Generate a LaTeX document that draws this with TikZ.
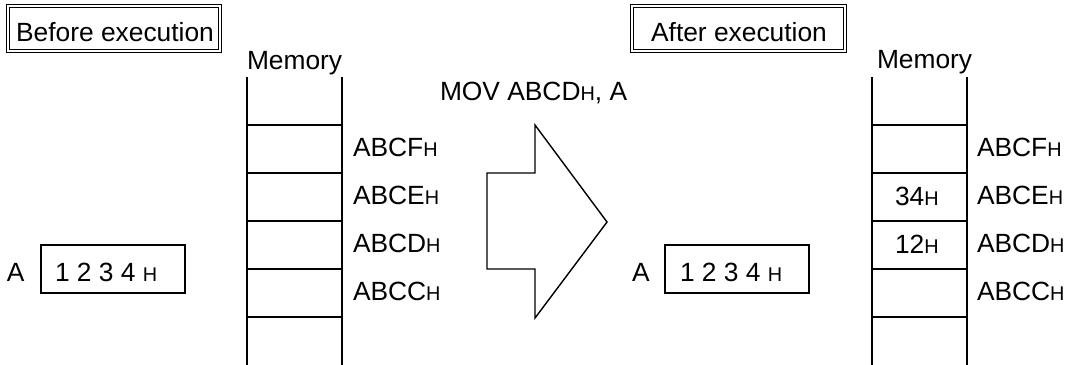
\documentclass[tikz,border=0pt]{standalone}
\usepackage{fontspec}
\setmainfont{Liberation Sans}
\newcommand{\hx}{{\fontsize{11.3}{13}\selectfont H}}
\begin{document}
\begin{tikzpicture}[x=0.02cm,y=-0.02cm]
        \tikzstyle{txt}=[inner sep=0pt, outer sep=0pt, font=\fontsize{15}{18}\selectfont]
        \tikzstyle{titlebox}=[draw, double, double distance=1.1pt, line width=0.85pt]
        \tikzstyle{reg}=[draw, line width=1.1pt]
        \tikzstyle{mem}=[line width=1.15pt]
        \useasboundingbox (0,0) rectangle (1066,365);
        % titles
        \draw[titlebox] (8,6) rectangle (220,51);
        \node[txt, anchor=base] (before) at (115,41.7) {Before execution};
        \draw[titlebox] (632,6) rectangle (845,51);
        \node[txt, anchor=base] (after) at (739,41.7) {After execution};
        % memory, before
        \node[txt, anchor=base west] (memL) at (247,70) {Memory};
        \draw[mem] (247,77) -- (247,365) (342,77) -- (342,365);
        \foreach \y in {125,173,221,269,317}
            \draw[mem] (247,\y) -- (342,\y);
        \node[txt, anchor=base west] (cfL) at (353,156) {ABCF\hx};
        \node[txt, anchor=base west] (ceL) at (353,204) {ABCE\hx};
        \node[txt, anchor=base west] (cdL) at (353,252) {ABCD\hx};
        \node[txt, anchor=base west] (ccL) at (353,300) {ABCC\hx};
        % register A, before
        \node[txt, anchor=base west] (aL) at (7,281.7) {A};
        \draw[reg] (41,245) rectangle (185,292.7);
        \node[txt, anchor=base west] (valL) at (55,281.7) {1 2 3 4 \hx};
        % instruction arrow
        \node[txt, anchor=base west] (mov) at (440,100) {MOV ABCD\hx, A};
        \draw[line width=0.8pt, line join=miter] (487,173) -- (535,173) -- (535,125) -- (607,222)
            -- (535,318) -- (535,269) -- (487,269) -- cycle;
        % register A, after
        \node[txt, anchor=base west] (aR) at (632,281.7) {A};
        \draw[reg] (665,245) rectangle (809,292.7);
        \node[txt, anchor=base west] (valR) at (680,281.7) {1 2 3 4 \hx};
        % memory, after
        \node[txt, anchor=base west] (memR) at (877,69) {Memory};
        \draw[mem] (872,77) -- (872,365) (967,77) -- (967,365);
        \foreach \y in {125,173,221,269,317}
            \draw[mem] (872,\y) -- (967,\y);
        \node[txt, anchor=base west] (b34) at (895,205) {34\hx};
        \node[txt, anchor=base west] (b12) at (895,253) {12\hx};
        \node[txt, anchor=base west] (cfR) at (977,156) {ABCF\hx};
        \node[txt, anchor=base west] (ceR) at (977,204) {ABCE\hx};
        \node[txt, anchor=base west] (cdR) at (977,252) {ABCD\hx};
        \node[txt, anchor=base west] (ccR) at (977,300) {ABCC\hx};
    \end{tikzpicture}
\end{document}
